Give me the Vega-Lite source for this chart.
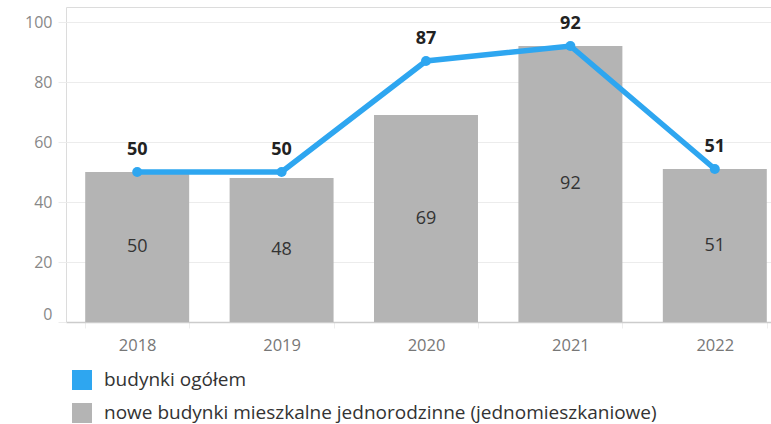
{
  "$schema": "https://vega.github.io/schema/vega-lite/v6.json",
  "autosize": "none",
  "width": 705,
  "height": 315,
  "padding": {"left": 66, "top": 7, "right": 0, "bottom": 102},
  "background": "white",
  "config": {
    "font": "Open Sans",
    "view": {"stroke": "#dcdcdc", "strokeWidth": 1}
  },
  "data": {
    "values": [
      {"year": "2018", "ogolem": 50, "nowe": 50},
      {"year": "2019", "ogolem": 50, "nowe": 48},
      {"year": "2020", "ogolem": 87, "nowe": 69},
      {"year": "2021", "ogolem": 92, "nowe": 92},
      {"year": "2022", "ogolem": 51, "nowe": 51}
    ]
  },
  "encoding": {
    "x": {
      "field": "year",
      "type": "nominal",
      "scale": {"range": [0, 720], "paddingInner": 0.28, "paddingOuter": 0.133},
      "axis": {
        "title": null,
        "labelAngle": 0,
        "labelFontSize": 16.5,
        "labelColor": "#777777",
        "labelPadding": 9,
        "domainColor": "#cccccc",
        "domainWidth": 1.5,
        "tickBand": "extent",
        "tickColor": "#eeeeee",
        "tickSize": 6
      }
    }
  },
  "layer": [
    {
      "mark": {"type": "bar"},
      "encoding": {
        "y": {
          "field": "nowe",
          "type": "quantitative",
          "scale": {"domain": [0, 105], "nice": false},
          "axis": {
            "title": null,
            "values": [0, 20, 40, 60, 80, 100],
            "labelFontSize": 16,
            "labelColor": "#888888",
            "labelPadding": 6,
            "labelBaseline": {"condition": {"test": "datum.value === 0", "value": "bottom"}, "value": "middle"},
            "gridColor": "#ececec",
            "tickColor": "#ececec",
            "tickSize": 8,
            "domain": false
          }
        },
        "color": {
          "datum": "nowe budynki mieszkalne jednorodzinne (jednomieszkaniowe)",
          "type": "nominal",
          "scale": {
            "domain": ["budynki ogółem", "nowe budynki mieszkalne jednorodzinne (jednomieszkaniowe)"],
            "range": ["#2ea6f0", "#b4b4b4"]
          },
          "legend": {
            "title": null,
            "orient": "none",
            "legendX": 6,
            "legendY": 363,
            "symbolType": "square",
            "symbolSize": 400,
            "symbolStrokeWidth": 0,
            "labelFontSize": 19,
            "labelColor": "#333333",
            "labelOffset": 12,
            "rowPadding": 13,
            "labelLimit": 700
          }
        }
      }
    },
    {
      "transform": [{"calculate": "datum.nowe / 2", "as": "mid"}],
      "mark": {"type": "text", "fontSize": 18, "color": "#333333"},
      "encoding": {
        "y": {"field": "mid", "type": "quantitative"},
        "text": {"field": "nowe", "type": "quantitative"}
      }
    },
    {
      "mark": {"type": "line", "strokeWidth": 5.5, "color": "#2ea6f0", "point": {"filled": true, "size": 100, "color": "#2ea6f0"}},
      "encoding": {
        "y": {"field": "ogolem", "type": "quantitative"},
        "color": {"datum": "budynki ogółem", "type": "nominal"}
      }
    },
    {
      "mark": {"type": "text", "fontSize": 18, "fontWeight": "bold", "color": "#222222", "dy": -22},
      "encoding": {
        "y": {"field": "ogolem", "type": "quantitative"},
        "text": {"field": "ogolem", "type": "quantitative"}
      }
    }
  ]
}
